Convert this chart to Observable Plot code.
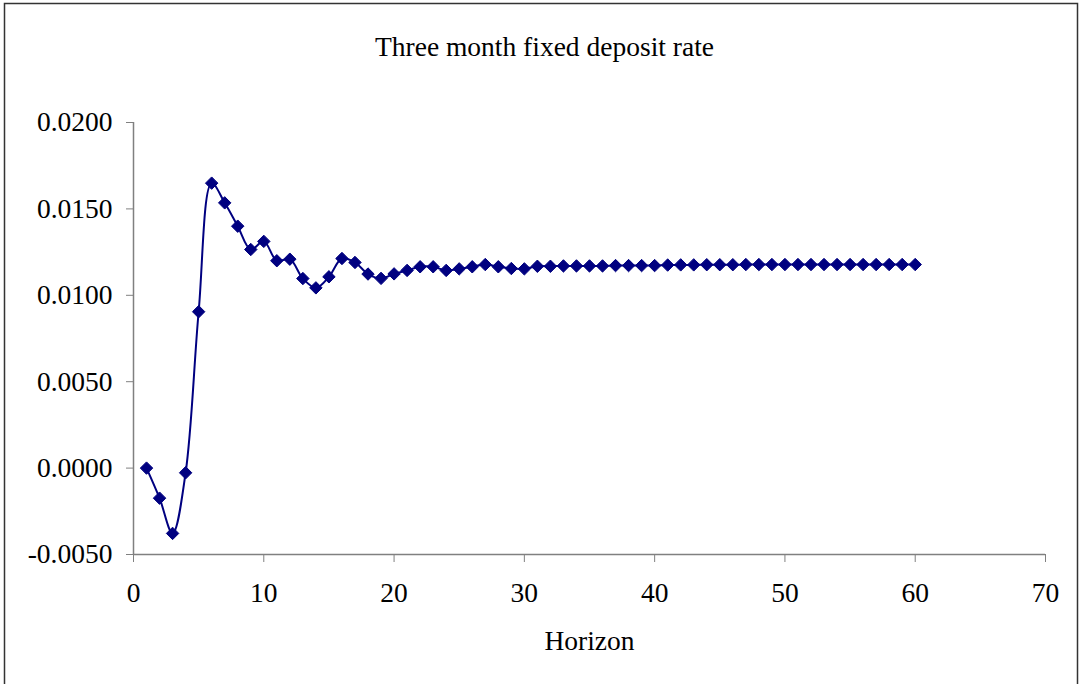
<!DOCTYPE html>
<html>
<head>
<meta charset="utf-8">
<script src="https://cdn.jsdelivr.net/npm/d3@7"></script>
<script src="https://cdn.jsdelivr.net/npm/@observablehq/plot@0.6"></script>
<style>
  html, body { margin: 0; padding: 0; background: #fff; }
  #chart { width: 1081px; height: 684px; overflow: hidden; }
</style>
</head>
<body>
<div id="chart"></div>
<script>
const title = "Three month fixed deposit rate";
const xLabel = "Horizon";
const horizon = d3.range(1, 61);
const rate = [
  0.00000, -0.00174, -0.00378, -0.00027, 0.00905, 0.01649, 0.01535, 0.01400, 0.01265, 0.01312,
  0.01200, 0.01209, 0.01097, 0.01043, 0.01107, 0.01213, 0.01190, 0.01123, 0.01098, 0.01124,
  0.01144, 0.01165, 0.01165, 0.01144, 0.01153, 0.01165, 0.01178, 0.01165, 0.01155, 0.01153,
  0.01168, 0.01168, 0.01170, 0.01170, 0.01170, 0.01170, 0.01172, 0.01172, 0.01172, 0.01172,
  0.01175, 0.01176, 0.01176, 0.01177, 0.01177, 0.01177, 0.01178, 0.01178, 0.01178, 0.01178,
  0.01178, 0.01178, 0.01178, 0.01178, 0.01178, 0.01178, 0.01178, 0.01178, 0.01178, 0.01178
];
const xTicks = [0, 10, 20, 30, 40, 50, 60, 70];
const yTicks = [-0.005, 0, 0.005, 0.01, 0.015, 0.02];

const data = horizon.map((h, i) => ({h, v: rate[i]}));
const navy = "#000080";
const axisGray = "#808080";

const chart = Plot.plot({
  width: 1081,
  height: 684,
  marginLeft: 133,
  marginRight: 36,
  marginTop: 122,
  marginBottom: 130,
  style: {fontFamily: "'Liberation Serif', 'Times New Roman', serif", fontSize: "27.5px", color: "#000", background: "#fff"},
  x: {domain: [0, 70]},
  y: {domain: [-0.005, 0.02]},
  marks: [
    Plot.axisY({ticks: yTicks, tickSize: 7, tickPadding: 14, tickFormat: d => d.toFixed(4), stroke: axisGray, fill: "#000", label: null}),
    Plot.axisX({ticks: xTicks, tickSize: 8, tickPadding: 20, tickFormat: d => String(d), stroke: axisGray, fill: "#000",
      label: xLabel, labelAnchor: "center", labelArrow: "none", labelOffset: 95}),
    Plot.ruleX([0], {stroke: axisGray, strokeWidth: 1.5}),
    Plot.ruleY([-0.005], {stroke: axisGray, strokeWidth: 1.5}),
    Plot.line(data, {x: "h", y: "v", curve: "catmull-rom", stroke: navy, strokeWidth: 2}),
    Plot.dot(data, {x: "h", y: "v", symbol: "diamond2", fill: navy, stroke: navy, strokeWidth: 1, r: 5.6}),
    Plot.text([title], {frameAnchor: "top", dx: -45, dy: -86, fontSize: 27.5, fill: "#000"})
  ]
});

d3.select(chart).append("rect")
  .attr("x", 4.5).attr("y", 3.5)
  .attr("width", 1073).attr("height", 700)
  .attr("fill", "none").attr("stroke", "#333").attr("stroke-width", 1.5);

document.getElementById("chart").appendChild(chart);
</script>
</body>
</html>
